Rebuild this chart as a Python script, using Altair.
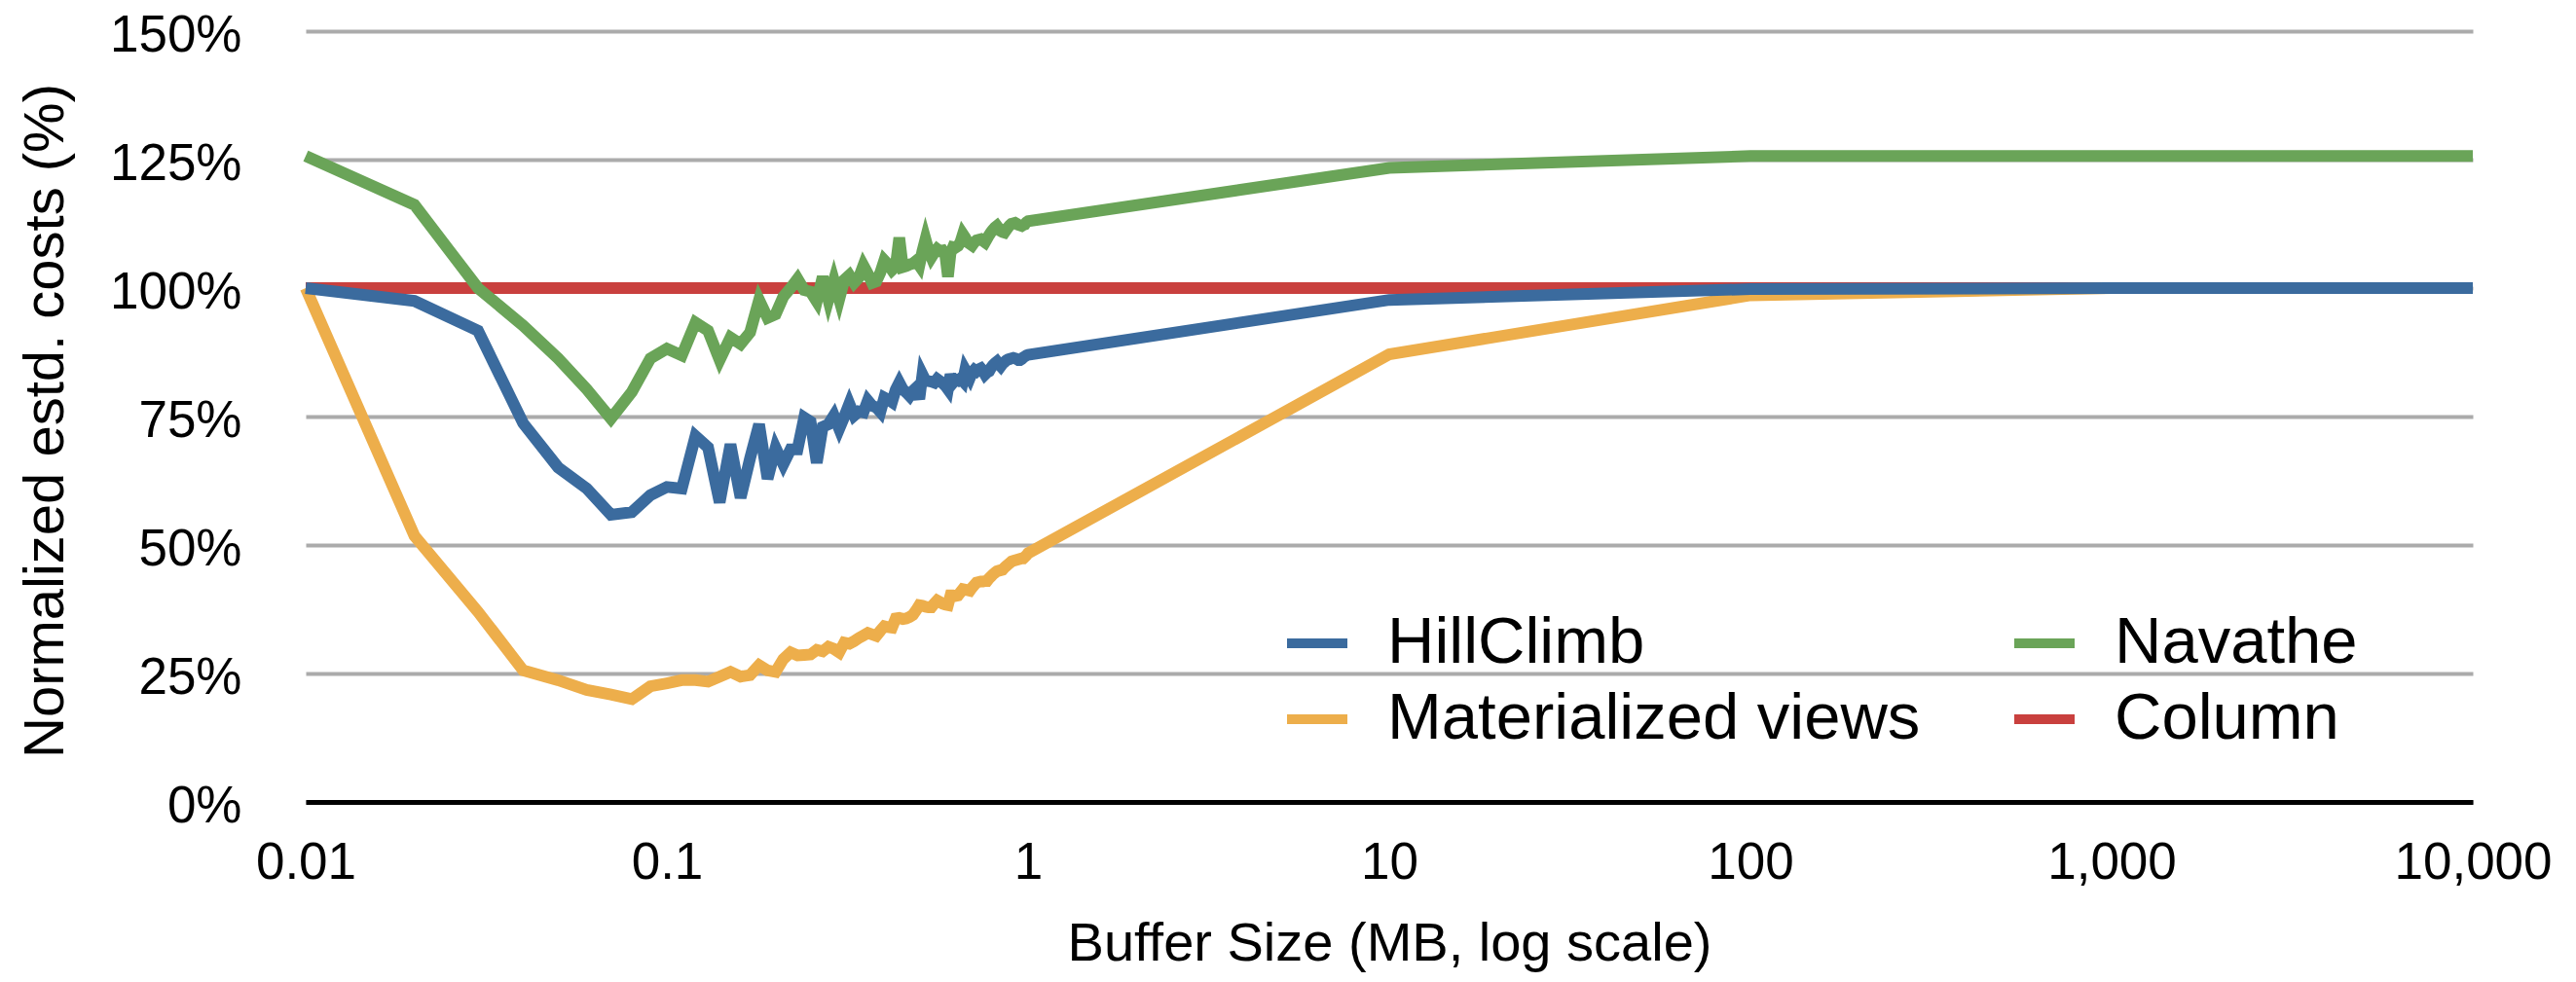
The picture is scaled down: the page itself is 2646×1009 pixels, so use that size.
import altair as alt
import pandas as pd

# Buffer sizes (MB)
BUFFER_MB = [
    0.01, 0.02, 0.03, 0.04, 0.05, 0.06, 0.07, 0.08, 0.09, 0.10,
    0.11, 0.12, 0.13, 0.14, 0.15, 0.16, 0.17, 0.18, 0.19, 0.20,
    0.21, 0.22, 0.23, 0.24, 0.25, 0.26, 0.27, 0.28, 0.29, 0.30,
    0.31, 0.32, 0.33, 0.34, 0.35, 0.36, 0.37, 0.38, 0.39, 0.40,
    0.41, 0.42, 0.43, 0.44, 0.45, 0.46, 0.47, 0.48, 0.49, 0.50,
    0.51, 0.52, 0.53, 0.54, 0.55, 0.56, 0.57, 0.58, 0.59, 0.60,
    0.61, 0.62, 0.63, 0.64, 0.65, 0.66, 0.67, 0.68, 0.69, 0.70,
    0.71, 0.72, 0.73, 0.74, 0.75, 0.76, 0.77, 0.78, 0.79, 0.80,
    0.81, 0.82, 0.83, 0.84, 0.85, 0.86, 0.87, 0.88, 0.89, 0.90,
    0.91, 0.92, 0.93, 0.94, 0.95, 0.96, 0.97, 0.98, 0.99, 1.00,
    10, 100, 1000, 10000,
]

HILLCLIMB = [
    100.0, 97.5, 91.7, 73.7, 65.1, 61.0, 55.9, 56.4, 59.7, 61.3,
    61.0, 71.2, 69.0, 58.3, 69.6, 59.2, 66.9, 73.5, 62.9, 68.9,
    65.7, 68.6, 68.6, 74.8, 74.0, 66.0, 73.0, 73.5, 75.2, 72.6,
    75.0, 77.5, 75.2, 76.0, 75.8, 78.1, 77.1, 76.8, 75.9, 78.7,
    78.3, 77.8, 80.2, 81.6, 80.3, 79.7, 79.0, 80.0, 80.6, 78.4,
    83.2, 82.0, 81.9, 81.8, 81.6, 82.3, 81.9, 81.5, 81.0, 80.3,
    83.2, 81.6, 82.2, 82.0, 82.4, 81.9, 84.1, 83.3, 82.5, 83.6,
    84.1, 83.8, 84.2, 84.4, 83.9, 83.2, 83.6, 83.8, 84.5, 85.0,
    85.4, 85.7, 85.2, 84.8, 85.3, 85.6, 85.9, 86.1, 86.2, 86.3,
    86.4, 86.3, 86.2, 86.0, 86.0, 86.2, 86.5, 86.7, 86.9, 87.0,
    97.7, 99.8, 100.0, 100.0,
]

NAVATHE = [
    125.7, 116.2, 100.0, 92.7, 86.3, 80.3, 74.6, 79.8, 86.3, 88.2,
    86.9, 93.3, 91.7, 86.0, 90.4, 89.1, 91.4, 97.7, 94.2, 94.9,
    98.3, 100.0, 101.8, 99.6, 99.3, 97.4, 102.2, 97.7, 101.5, 97.8,
    101.6, 102.5, 101.0, 102.0, 104.4, 102.8, 101.0, 101.3, 103.0, 105.4,
    104.6, 103.5, 104.2, 109.8, 104.1, 104.3, 104.6, 104.8, 105.3, 104.4,
    107.2, 109.5, 107.4, 106.0, 106.9, 107.6, 107.2, 107.3, 106.5, 102.2,
    106.8, 108.0, 107.9, 108.2, 109.0, 110.5, 109.8, 108.9, 108.6, 108.3,
    108.9, 109.3, 109.4, 109.5, 109.2, 108.9, 109.6, 110.3, 110.9, 111.4,
    111.8, 112.1, 111.6, 111.1, 110.9, 110.8, 111.3, 111.8, 112.2, 112.5,
    112.6, 112.7, 112.5, 112.3, 112.2, 112.1, 112.3, 112.4, 112.8, 113.0,
    123.4, 125.7, 125.7, 125.7,
]

MATVIEWS = [
    100.0, 51.8, 37.0, 25.6, 23.7, 21.8, 20.9, 20.0, 22.5, 23.1,
    23.7, 23.7, 23.4, 24.4, 25.3, 24.4, 24.7, 26.6, 25.6, 25.3,
    27.8, 29.1, 28.5, 28.6, 28.7, 29.6, 29.3, 30.2, 29.8, 29.1,
    31.0, 30.8, 31.3, 31.9, 32.4, 32.9, 32.6, 32.3, 33.3, 34.2,
    34.0, 33.9, 35.7, 35.8, 35.6, 35.7, 36.0, 36.4, 37.3, 38.3,
    38.2, 38.0, 37.9, 37.9, 38.6, 39.2, 38.9, 38.6, 38.4, 38.3,
    40.2, 40.2, 40.1, 40.2, 40.8, 41.4, 41.3, 41.2, 41.1, 41.7,
    42.2, 42.7, 42.8, 42.9, 42.9, 43.0, 43.0, 43.5, 43.9, 44.3,
    44.6, 44.9, 45.0, 45.1, 45.2, 45.6, 45.9, 46.2, 46.5, 46.8,
    46.9, 47.0, 47.1, 47.2, 47.3, 47.4, 47.4, 47.7, 48.0, 48.4,
    87.1, 98.6, 100.0, 100.0,
]

COLUMN_X = [0.01, 10000]
COLUMN = [100.0, 100.0]

SERIES = ["HillClimb", "Navathe", "Materialized views", "Column"]
COLORS = ["#3b6b9e", "#6aa458", "#edae4b", "#c9403e"]
X_TICKS = [0.01, 0.1, 1, 10, 100, 1000, 10000]
Y_TICKS = [0, 25, 50, 75, 100, 125, 150]

FONT = "Liberation Sans"


def frame(name, xs, ys):
    return pd.DataFrame({"buffer": xs, "cost": ys, "series": name})


df_hc = frame("HillClimb", BUFFER_MB, HILLCLIMB)
df_nv = frame("Navathe", BUFFER_MB, NAVATHE)
df_mv = frame("Materialized views", BUFFER_MB, MATVIEWS)
df_col = frame("Column", COLUMN_X, COLUMN)

x_enc = alt.X(
    "buffer:Q",
    scale=alt.Scale(type="log", domain=[0.01, 10000], nice=False),
    axis=alt.Axis(
        values=X_TICKS,
        format=",",
        title="Buffer Size (MB, log scale)",
        titleFont=FONT,
        titleFontSize=56,
        titleFontWeight="normal",
        titleColor="#000000",
        titleBaseline="alphabetic",
        titleY=162,
        labelFont=FONT,
        labelFontSize=53,
        labelColor="#000000",
        labelPadding=36,
        labelFlush=False,
        labelOverlap=False,
        ticks=False,
        tickSize=0,
        grid=False,
        domain=True,
        domainColor="#000000",
        domainWidth=5,
    ),
)

y_enc = alt.Y(
    "cost:Q",
    scale=alt.Scale(domain=[0, 150], nice=False, zero=True),
    axis=alt.Axis(
        values=Y_TICKS,
        labelExpr="datum.value + '%'",
        title="Normalized estd. costs (%)",
        titleFont=FONT,
        titleFontSize=58,
        titleFontWeight="normal",
        titleColor="#000000",
        titleBaseline="alphabetic",
        titleAngle=270,
        titleX=-250,
        titleY=400,
        titleAlign="center",
        labelFont=FONT,
        labelFontSize=53,
        labelColor="#000000",
        labelPadding=66,
        labelOffset=4,
        labelBaseline="middle",
        ticks=False,
        tickSize=0,
        domain=False,
        grid=True,
        gridColor="#ababab",
        gridWidth=4,
    ),
)

color_enc = alt.Color(
    "series:N",
    scale=alt.Scale(domain=SERIES, range=COLORS),
    legend=alt.Legend(
        title=None,
        orient="none",
        legendX=1003,
        legendY=593,
        columns=2,
        direction="horizontal",
        symbolType="stroke",
        symbolStrokeWidth=10,
        symbolSize=3844,
        labelFont=FONT,
        labelFontSize=67,
        labelColor="#000000",
        labelLimit=1000,
        labelOffset=36,
        columnPadding=76,
        rowPadding=9,
        padding=0,
    ),
)


def layer(df):
    return alt.Chart(df).mark_line(strokeWidth=12).encode(
        x=x_enc, y=y_enc, color=color_enc
    )


chart = (
    alt.layer(layer(df_col), layer(df_mv), layer(df_hc), layer(df_nv))
    .properties(
        width=2226,
        height=792,
        padding={"left": 306, "top": 24, "right": 98, "bottom": 177},
        autosize=alt.AutoSizeParams(type="none"),
        background="#ffffff",
    )
    .configure_view(stroke=None)
)

chart.save("out.html", embed_options={"renderer": "svg", "actions": False})
